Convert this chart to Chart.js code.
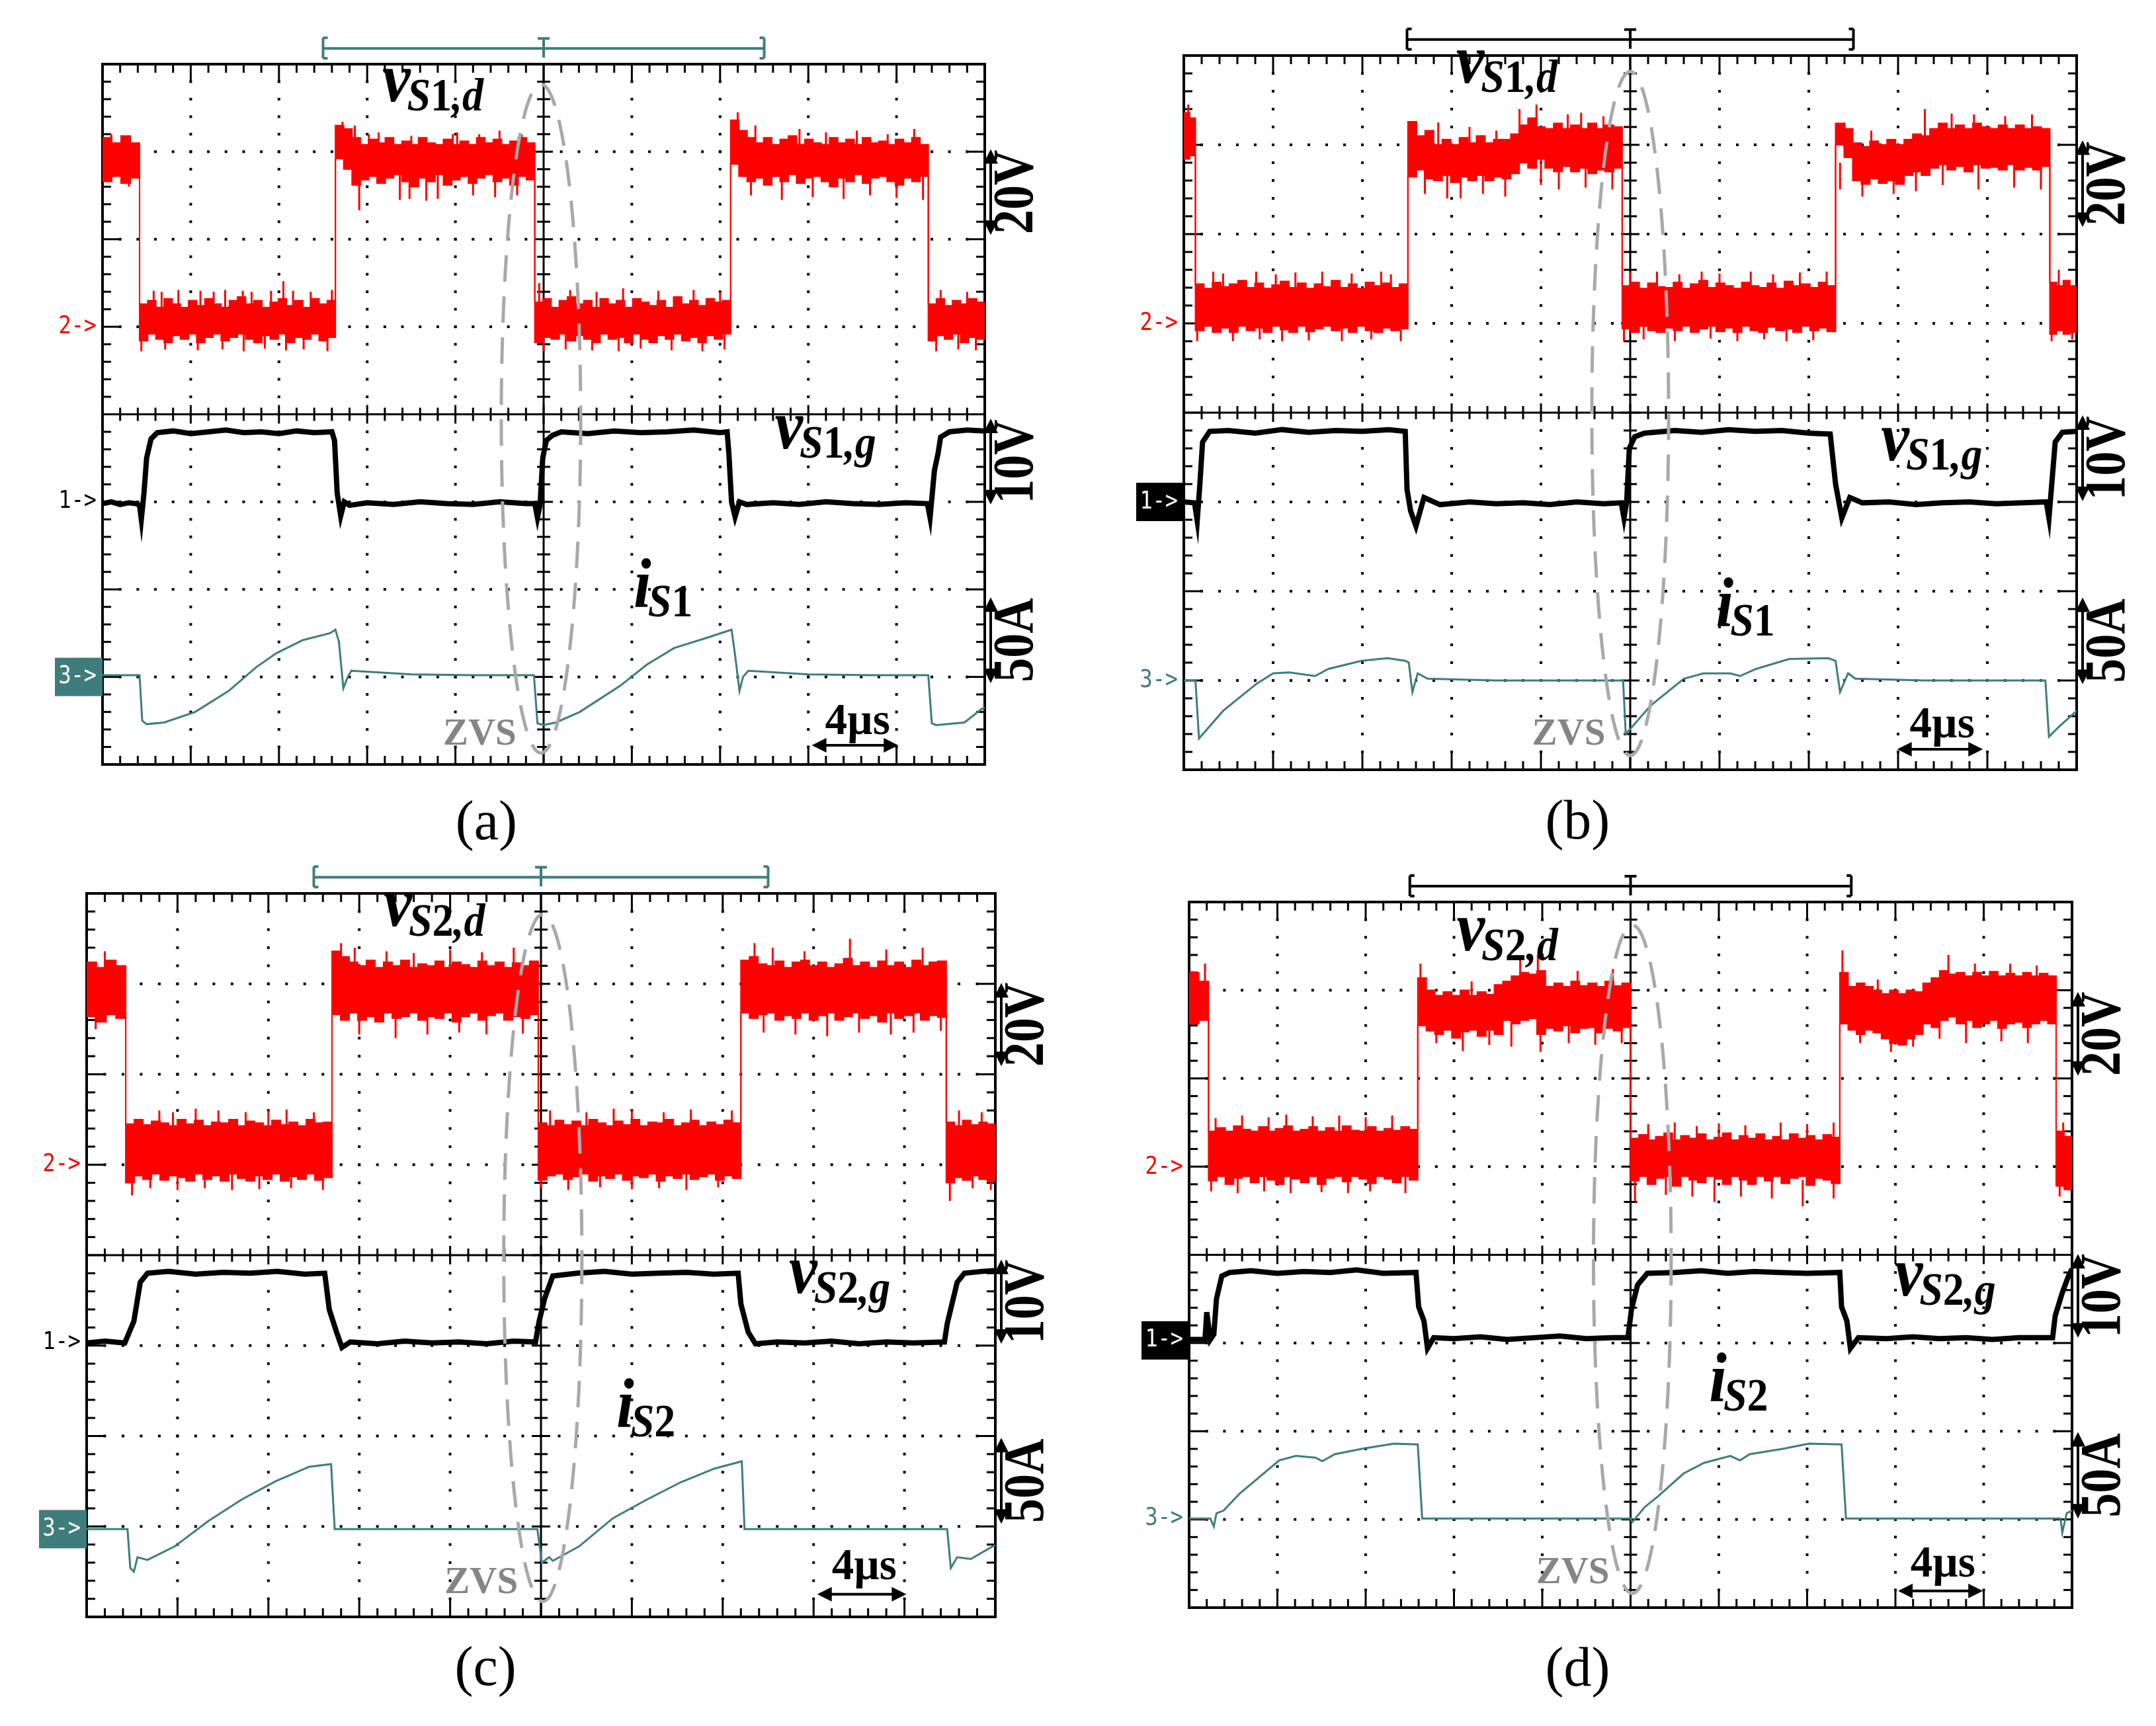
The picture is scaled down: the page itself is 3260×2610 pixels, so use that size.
<!DOCTYPE html>
<html>
<head>
<meta charset="utf-8">
<script src="https://cdn.jsdelivr.net/npm/chart.js@4.4.1/dist/chart.umd.min.js"></script>
<style>
  html, body { margin: 0; padding: 0; background: #fff; }
  body { width: 3260px; height: 2610px; position: relative; overflow: hidden; }
  canvas { position: absolute; }
</style>
</head>
<body>
<canvas id="pa" width="1630" height="1305" style="left:0;top:0"></canvas>
<canvas id="pb" width="1630" height="1305" style="left:1630px;top:0"></canvas>
<canvas id="pc" width="1630" height="1305" style="left:0;top:1305px"></canvas>
<canvas id="pd" width="1630" height="1305" style="left:1630px;top:1305px"></canvas>
<script>
// all values in scope divisions: x 0..10, y 0..8 (bottom = 0)

// ---- panel (a) ----
const redEdgesA = [0, 0.42, 2.64, 4.9, 7.12, 9.36, 10];
const redTopA = [
  [7.16, 7.1, 7.18, 7.1],
  [5.26, 5.3, 5.22, 5.32, 5.26, 5.22, 5.3, 5.24, 5.32, 5.26, 5.22, 5.3, 5.34, 5.26, 5.3, 5.22, 5.28, 5.32, 5.24, 5.3, 5.22, 5.32, 5.26, 5.3],
  [7.3, 7.26, 7.16, 7.08, 7.14, 7.1, 7.16, 7.08, 7.12, 7.08, 7.16, 7.1, 7.08, 7.14, 7.08, 7.12, 7.08, 7.16, 7.1, 7.14, 7.08, 7.12, 7.16, 7.1],
  [5.28, 5.32, 5.22, 5.3, 5.34, 5.26, 5.3, 5.22, 5.32, 5.26, 5.3, 5.22, 5.32, 5.28, 5.24, 5.3, 5.22, 5.34, 5.26, 5.3, 5.24, 5.32, 5.28, 5.3],
  [7.36, 7.24, 7.16, 7.1, 7.16, 7.08, 7.14, 7.18, 7.08, 7.14, 7.1, 7.08, 7.16, 7.1, 7.14, 7.08, 7.16, 7.1, 7.12, 7.08, 7.14, 7.1, 7.16, 7.08],
  [5.26, 5.32, 5.24, 5.3, 5.26, 5.32, 5.28]
];
const redBotA = [
  [6.66, 6.72, 6.64, 6.7],
  [4.84, 4.92, 4.86, 4.82, 4.9, 4.86, 4.92, 4.82, 4.88, 4.92, 4.84, 4.88, 4.92, 4.86, 4.82, 4.9, 4.86, 4.92, 4.82, 4.88, 4.86, 4.92, 4.84, 4.88],
  [6.92, 6.8, 6.62, 6.68, 6.72, 6.64, 6.7, 6.74, 6.66, 6.6, 6.7, 6.66, 6.74, 6.62, 6.68, 6.72, 6.64, 6.7, 6.74, 6.66, 6.7, 6.62, 6.72, 6.68],
  [4.82, 4.88, 4.86, 4.92, 4.84, 4.9, 4.86, 4.82, 4.92, 4.86, 4.88, 4.82, 4.92, 4.86, 4.82, 4.9, 4.86, 4.92, 4.84, 4.88, 4.82, 4.9, 4.86, 4.92],
  [6.86, 6.72, 6.66, 6.7, 6.62, 6.72, 6.66, 6.74, 6.64, 6.7, 6.72, 6.66, 6.6, 6.7, 6.66, 6.74, 6.64, 6.7, 6.72, 6.66, 6.62, 6.7, 6.66, 6.72],
  [4.84, 4.9, 4.86, 4.92, 4.82, 4.88, 4.86]
];
const spikeUpXA = [0.1, 0.58, 0.67, 0.86, 1.11, 1.26, 1.39, 1.59, 1.69, 1.91,
  2.05, 2.16, 2.36, 2.6, 2.72, 2.86, 3.02, 3.13, 3.5, 3.97,
  4.02, 4.27, 4.5, 4.75, 4.95, 5.3, 5.6, 5.9, 6.3, 6.7,
  7.0, 7.2, 7.4, 7.9, 8.2, 8.55, 8.9, 9.2, 9.5, 9.8];
const spikeUpYA = [7.2, 5.41, 5.4, 5.42, 5.41, 5.4, 5.42, 5.41, 5.4, 5.41,
  5.52, 5.41, 5.4, 5.42, 7.34, 7.3, 7.2, 7.22, 7.18, 7.2,
  7.22, 7.2, 7.24, 7.2, 5.5, 5.42, 5.4, 5.44, 5.41, 5.42,
  5.4, 7.45, 7.3, 7.26, 7.22, 7.24, 7.2, 7.26, 5.42, 5.4];
const spikeDnXA = [0.3, 0.44, 0.71, 1.08, 1.36, 1.6, 1.84, 2.08, 2.28, 2.55,
  2.91, 3.37, 3.48, 3.67, 3.8, 4.2, 4.45, 4.7, 5.0, 5.25,
  5.55, 5.85, 6.1, 6.45, 6.8, 7.05, 7.35, 7.7, 8.05, 8.4,
  8.7, 9.0, 9.3, 9.45, 9.7, 9.9];
const spikeDnYA = [6.6, 4.72, 4.74, 4.73, 4.74, 4.72, 4.75, 4.73, 4.74, 4.72,
  6.33, 6.45, 6.46, 6.44, 6.46, 6.5, 6.48, 6.5, 4.72, 4.74,
  4.73, 4.72, 4.75, 4.73, 4.72, 4.74, 6.5, 6.45, 6.48, 6.46,
  6.5, 6.47, 6.45, 4.72, 4.74, 4.73];
const gateXA = [0, 0.1, 0.2, 0.3, 0.38, 0.42, 0.44, 0.47, 0.5, 0.55,
  0.62, 0.8, 1.0, 1.2, 1.4, 1.6, 1.8, 2.0, 2.2, 2.4,
  2.6, 2.63, 2.66, 2.7, 2.74, 2.8, 3.0, 3.3, 3.6, 3.9,
  4.2, 4.5, 4.8, 4.9, 4.93, 4.96, 4.99, 5.03, 5.1, 5.2,
  5.5, 5.8, 6.1, 6.4, 6.7, 7.0, 7.08, 7.1, 7.13, 7.17,
  7.22, 7.3, 7.6, 7.9, 8.2, 8.5, 8.8, 9.1, 9.35, 9.38,
  9.43, 9.47, 9.5, 9.6, 9.8, 10];
const gateYA = [2.98, 3.0, 2.97, 2.99, 2.98, 2.96, 2.8, 3.1, 3.5, 3.72,
  3.79, 3.81, 3.78, 3.8, 3.82, 3.79, 3.8, 3.78, 3.81, 3.79,
  3.8, 3.7, 3.1, 2.84, 3.0, 2.96, 2.99, 2.97, 3.0, 2.98,
  2.97, 3.0, 2.98, 2.98, 2.82, 2.97, 3.5, 3.7, 3.76, 3.8,
  3.78, 3.81, 3.79, 3.8, 3.82, 3.79, 3.8, 3.55, 3.0, 2.83,
  3.0, 2.97, 2.99, 2.97, 3.0, 2.98, 2.97, 2.99, 2.98, 2.82,
  3.36, 3.55, 3.74, 3.8, 3.82, 3.81];
const curXA = [0, 0.42, 0.45, 0.5, 0.7, 1.05, 1.43, 1.74, 1.97, 2.27,
  2.58, 2.64, 2.68, 2.73, 2.78, 2.82, 3.5, 4.2, 4.89, 4.93,
  5.0, 5.14, 5.41, 5.87, 6.17, 6.48, 6.86, 7.1, 7.13, 7.17,
  7.22, 7.26, 7.32, 8.0, 8.7, 9.36, 9.4, 9.45, 9.77, 9.96, 10];
const curYA = [1.02, 1.02, 0.5, 0.46, 0.48, 0.6, 0.84, 1.11, 1.27, 1.42,
  1.5, 1.54, 1.4, 0.87, 1.0, 1.07, 1.03, 1.02, 1.02, 0.47,
  0.45, 0.48, 0.6, 0.9, 1.14, 1.33, 1.45, 1.53, 1.54, 1.25,
  0.84, 1.0, 1.07, 1.03, 1.02, 1.02, 0.47, 0.45, 0.48, 0.63, 0.65];

// ---- panel (b) ----
const redEdgesB = [0, 0.13, 2.51, 4.91, 7.3, 9.7, 10];
const redTopB = [
  [7.36, 7.3],
  [5.44, 5.39, 5.46, 5.41, 5.44, 5.48, 5.4, 5.45, 5.39, 5.43, 5.47, 5.4, 5.45, 5.39, 5.44, 5.41, 5.48, 5.4, 5.44, 5.39, 5.46, 5.42, 5.45, 5.4, 5.44],
  [7.26, 7.1, 7.16, 7.0, 7.06, 7.0, 7.08, 7.02, 7.1, 7.02, 7.06, 7.06, 7.12, 7.22, 7.3, 7.2, 7.18, 7.24, 7.18, 7.22, 7.18, 7.24, 7.18, 7.22, 7.2],
  [5.42, 5.46, 5.39, 5.45, 5.41, 5.4, 5.46, 5.39, 5.44, 5.48, 5.4, 5.45, 5.42, 5.39, 5.46, 5.42, 5.4, 5.45, 5.39, 5.47, 5.42, 5.44, 5.4, 5.46, 5.42],
  [7.24, 7.18, 7.02, 6.98, 7.04, 7.0, 7.06, 7.0, 7.06, 7.12, 7.1, 7.18, 7.24, 7.18, 7.22, 7.18, 7.24, 7.2, 7.18, 7.22, 7.18, 7.22, 7.18, 7.2, 7.18],
  [5.46, 5.42, 5.48, 5.42]
];
const redBotB = [
  [6.84, 6.88],
  [4.92, 4.97, 4.9, 4.95, 4.9, 4.97, 4.92, 4.95, 4.9, 4.97, 4.93, 4.9, 4.97, 4.91, 4.94, 4.97, 4.92, 4.95, 4.9, 4.97, 4.92, 4.9, 4.95, 4.92, 4.94],
  [6.64, 6.72, 6.62, 6.6, 6.66, 6.58, 6.64, 6.6, 6.66, 6.6, 6.64, 6.62, 6.68, 6.8, 6.74, 6.84, 6.74, 6.7, 6.76, 6.7, 6.74, 6.68, 6.72, 6.7, 6.74],
  [4.94, 4.9, 4.97, 4.92, 4.9, 4.95, 4.92, 4.97, 4.9, 4.94, 4.97, 4.91, 4.95, 4.9, 4.97, 4.92, 4.9, 4.96, 4.92, 4.94, 4.9, 4.97, 4.92, 4.95, 4.91],
  [7.0, 6.86, 6.6, 6.56, 6.62, 6.57, 6.6, 6.56, 6.66, 6.7, 6.66, 6.74, 6.78, 6.72, 6.76, 6.7, 6.78, 6.74, 6.75, 6.72, 6.78, 6.72, 6.75, 6.72, 6.76],
  [4.88, 4.92, 4.88, 4.9]
];
const spikeUpXB = [0.05, 0.33, 0.44, 0.81, 1.03, 1.25, 1.55, 1.88, 2.21, 2.32,
  2.6, 2.85, 3.2, 3.5, 3.76, 3.95, 4.3, 4.45, 4.7, 5.0,
  5.3, 5.55, 5.8, 6.0, 6.35, 6.6, 6.9, 7.2, 7.4, 7.7,
  8.3, 8.6, 8.85, 9.2, 9.5, 9.8];
const spikeUpYB = [7.45, 5.58, 5.56, 5.58, 5.55, 5.57, 5.58, 5.56, 5.58, 5.55,
  7.25, 7.25, 7.2, 7.16, 7.4, 7.45, 7.34, 7.36, 7.32, 5.57,
  5.58, 5.55, 5.58, 5.56, 5.58, 5.55, 5.57, 5.58, 7.25, 7.16,
  7.4, 7.35, 7.34, 7.32, 7.34, 5.6];
const spikeDnXB = [0.15, 0.55, 0.85, 1.1, 1.4, 1.77, 2.1, 2.43, 2.7, 2.95,
  3.1, 3.35, 3.6, 4.0, 4.2, 4.5, 4.8, 4.93, 5.15, 5.5,
  5.9, 6.2, 6.5, 6.75, 7.05, 7.35, 7.6, 7.95, 8.2, 8.5,
  8.9, 9.3, 9.6, 9.72, 9.95];
const spikeDnYB = [4.8, 4.8, 4.82, 4.8, 4.81, 4.8, 4.82, 4.8, 6.45, 6.4,
  6.4, 6.45, 6.42, 6.55, 6.5, 6.52, 6.5, 4.8, 4.82, 4.8,
  4.83, 4.8, 4.82, 4.8, 4.81, 6.5, 6.42, 6.45, 6.48, 6.55,
  6.5, 6.52, 6.5, 4.8, 4.82];
const gateXB = [0, 0.12, 0.15, 0.18, 0.21, 0.29, 0.5, 0.8, 1.1, 1.4,
  1.7, 2.0, 2.3, 2.48, 2.5, 2.54, 2.6, 2.69, 2.87, 3.2,
  3.5, 3.8, 4.1, 4.4, 4.7, 4.9, 4.93, 4.96, 4.99, 5.05,
  5.16, 5.5, 5.8, 6.1, 6.4, 6.7, 7.0, 7.24, 7.3, 7.37,
  7.46, 7.6, 7.9, 8.2, 8.5, 8.8, 9.1, 9.4, 9.66, 9.69,
  9.76, 9.84, 10];
const gateYB = [3.0, 2.99, 2.79, 3.2, 3.67, 3.79, 3.8, 3.77, 3.81, 3.78,
  3.8, 3.79, 3.81, 3.79, 3.14, 2.9, 2.73, 3.05, 2.97, 3.0,
  2.98, 2.99, 2.97, 3.0, 2.98, 2.99, 2.82, 3.0, 3.6, 3.73,
  3.77, 3.8, 3.78, 3.81, 3.79, 3.8, 3.77, 3.76, 3.2, 2.82,
  3.05, 2.99, 3.0, 2.97, 2.99, 3.0, 2.98, 2.99, 3.0, 2.82,
  3.67, 3.78, 3.79];
const curXB = [0, 0.13, 0.17, 0.44, 0.81, 1.0, 1.18, 1.47, 1.62, 1.99,
  2.28, 2.48, 2.52, 2.56, 2.62, 2.73, 3.5, 4.2, 4.92, 4.95,
  5.23, 5.6, 5.82, 6.12, 6.23, 6.41, 6.78, 7.22, 7.3, 7.35,
  7.44, 7.52, 8.3, 9.0, 9.65, 9.69, 9.8, 10];
const curYB = [1.0, 1.0, 0.35, 0.66, 0.96, 1.08, 1.09, 1.05, 1.13, 1.22,
  1.25, 1.22, 1.2, 0.87, 1.08, 1.02, 1.0, 1.0, 1.0, 0.4,
  0.72, 1.02, 1.08, 1.08, 1.05, 1.13, 1.24, 1.25, 1.22, 0.87,
  1.08, 1.02, 1.0, 1.0, 1.0, 0.37, 0.48, 0.66];

// ---- panel (c) ----
const redEdgesC = [0, 0.43, 2.7, 4.97, 7.2, 9.46, 10];
const redTopC = [
  [7.24, 7.18, 7.26, 7.2],
  [5.45, 5.5, 5.44, 5.48, 5.46, 5.43, 5.5, 5.45, 5.49, 5.43, 5.47, 5.46, 5.5, 5.43, 5.48, 5.46, 5.43, 5.49, 5.44, 5.47, 5.43, 5.5, 5.46, 5.47],
  [7.36, 7.3, 7.24, 7.2, 7.26, 7.18, 7.24, 7.2, 7.26, 7.18, 7.22, 7.2, 7.25, 7.18, 7.24, 7.21, 7.18, 7.25, 7.2, 7.24, 7.18, 7.23, 7.2, 7.25],
  [5.46, 5.43, 5.49, 5.44, 5.48, 5.43, 5.5, 5.46, 5.43, 5.48, 5.44, 5.5, 5.43, 5.47, 5.46, 5.5, 5.43, 5.46, 5.49, 5.43, 5.47, 5.44, 5.49, 5.46],
  [7.26, 7.3, 7.22, 7.2, 7.25, 7.18, 7.24, 7.26, 7.2, 7.24, 7.18, 7.22, 7.28, 7.2, 7.24, 7.18, 7.25, 7.2, 7.24, 7.18, 7.26, 7.2, 7.24, 7.25],
  [5.47, 5.43, 5.49, 5.44, 5.47, 5.45]
];
const redBotC = [
  [6.64, 6.58, 6.66, 6.62],
  [4.8, 4.88, 4.84, 4.9, 4.83, 4.88, 4.86, 4.82, 4.9, 4.84, 4.88, 4.82, 4.9, 4.85, 4.82, 4.88, 4.84, 4.9, 4.82, 4.87, 4.84, 4.9, 4.83, 4.86],
  [6.66, 6.6, 6.68, 6.6, 6.64, 6.58, 6.68, 6.62, 6.64, 6.68, 6.6, 6.64, 6.62, 6.68, 6.58, 6.64, 6.68, 6.6, 6.65, 6.68, 6.6, 6.64, 6.62, 6.66],
  [4.83, 4.88, 4.9, 4.84, 4.87, 4.9, 4.82, 4.88, 4.85, 4.9, 4.83, 4.88, 4.86, 4.9, 4.82, 4.88, 4.85, 4.9, 4.84, 4.87, 4.9, 4.83, 4.88, 4.85],
  [6.68, 6.62, 6.66, 6.68, 6.6, 6.65, 6.62, 6.68, 6.6, 6.65, 6.68, 6.6, 6.64, 6.68, 6.62, 6.65, 6.58, 6.68, 6.62, 6.65, 6.68, 6.6, 6.65, 6.63],
  [4.8, 4.86, 4.83, 4.88, 4.84, 4.82]
];
const spikeUpXC = [0.2, 0.8, 0.95, 1.2, 1.45, 1.75, 2.0, 2.2, 2.5, 2.8,
  2.95, 3.3, 3.6, 4.0, 4.35, 4.7, 5.1, 5.5, 5.8, 6.0,
  6.35, 6.65, 7.1, 7.35, 7.55, 7.9, 8.4, 8.8, 9.2, 9.6, 9.85];
const spikeUpYC = [7.36, 5.6, 5.58, 5.62, 5.6, 5.58, 5.6, 5.61, 5.58, 7.45,
  7.4, 7.36, 7.34, 7.38, 7.35, 7.4, 5.6, 5.58, 5.62, 5.6,
  5.58, 5.61, 5.6, 7.45, 7.4, 7.36, 7.5, 7.38, 7.4, 5.6, 5.58];
const spikeDnXC = [0.1, 0.5, 0.7, 1.0, 1.3, 1.6, 1.9, 2.25, 2.6, 3.0,
  3.4, 3.75, 4.1, 4.4, 4.8, 5.0, 5.3, 5.65, 6.0, 6.3,
  6.6, 6.95, 7.45, 7.8, 8.15, 8.5, 8.85, 9.1, 9.4, 9.5,
  9.75, 9.95];
const spikeDnYC = [6.5, 4.66, 4.74, 4.72, 4.74, 4.72, 4.73, 4.74, 4.72, 6.44,
  6.4, 6.44, 6.46, 6.44, 6.45, 4.74, 4.72, 4.75, 4.73, 4.74,
  4.72, 4.75, 6.46, 6.44, 6.42, 6.46, 6.44, 6.46, 6.48, 4.6,
  4.74, 4.72];
const gateXC = [0, 0.2, 0.42, 0.47, 0.52, 0.59, 0.67, 0.9, 1.2, 1.5,
  1.8, 2.1, 2.4, 2.62, 2.67, 2.75, 2.81, 2.9, 3.2, 3.5,
  3.8, 4.1, 4.4, 4.7, 4.94, 4.98, 5.04, 5.13, 5.4, 5.7,
  6.0, 6.3, 6.6, 6.9, 7.17, 7.2, 7.28, 7.36, 7.6, 7.9,
  8.2, 8.5, 8.8, 9.1, 9.44, 9.47, 9.58, 9.66, 9.85, 10];
const gateYC = [3.03, 3.05, 3.03, 3.15, 3.27, 3.7, 3.8, 3.82, 3.79, 3.81,
  3.8, 3.82, 3.79, 3.8, 3.4, 3.15, 2.98, 3.04, 3.02, 3.05,
  3.03, 3.04, 3.02, 3.05, 3.04, 3.27, 3.52, 3.77, 3.8, 3.82,
  3.79, 3.8, 3.81, 3.79, 3.8, 3.46, 3.15, 3.02, 3.04, 3.03,
  3.05, 3.02, 3.04, 3.03, 3.04, 3.24, 3.7, 3.8, 3.82, 3.83];
const curXC = [0, 0.45, 0.48, 0.52, 0.56, 0.67, 0.97, 1.34, 1.71, 2.08,
  2.45, 2.69, 2.73, 3.5, 4.2, 4.96, 5.01, 5.09, 5.13, 5.42,
  5.79, 6.17, 6.54, 6.91, 7.21, 7.24, 8.0, 8.8, 9.47, 9.51,
  9.58, 9.73, 9.97, 10];
const curYC = [0.97, 0.97, 0.54, 0.5, 0.66, 0.63, 0.78, 1.06, 1.3, 1.5,
  1.66, 1.69, 0.97, 0.97, 0.97, 0.97, 0.6, 0.66, 0.62, 0.78,
  1.09, 1.3, 1.49, 1.64, 1.72, 0.97, 0.97, 0.97, 0.97, 0.54,
  0.66, 0.64, 0.78, 0.79];

// ---- panel (d) ----
const redEdgesD = [0, 0.22, 2.59, 5.0, 7.37, 9.82, 10];
const redTopD = [
  [7.2, 7.1],
  [5.4, 5.44, 5.4, 5.46, 5.42, 5.4, 5.45, 5.4, 5.43, 5.46, 5.4, 5.42, 5.45, 5.4, 5.44, 5.4, 5.46, 5.41, 5.4, 5.45, 5.4, 5.43, 5.41, 5.45, 5.42],
  [7.14, 7.0, 6.94, 6.98, 6.94, 7.0, 6.94, 6.98, 6.95, 7.06, 7.1, 7.16, 7.2, 7.18, 7.22, 7.04, 7.08, 7.04, 7.1, 7.05, 7.08, 7.04, 7.1, 7.05, 7.08],
  [5.32, 5.36, 5.3, 5.34, 5.38, 5.3, 5.35, 5.32, 5.37, 5.3, 5.33, 5.38, 5.3, 5.35, 5.32, 5.37, 5.3, 5.34, 5.3, 5.37, 5.32, 5.35, 5.3, 5.36, 5.33],
  [7.2, 7.04, 7.08, 7.04, 7.0, 6.96, 7.0, 6.96, 7.0, 6.98, 7.08, 7.14, 7.22, 7.18, 7.2, 7.16, 7.2, 7.16, 7.21, 7.16, 7.19, 7.16, 7.2, 7.16, 7.19, 7.16],
  [5.4, 5.34]
];
const redBotD = [
  [6.62, 6.66],
  [4.84, 4.89, 4.8, 4.87, 4.89, 4.82, 4.89, 4.85, 4.8, 4.89, 4.86, 4.82, 4.89, 4.8, 4.87, 4.89, 4.83, 4.89, 4.86, 4.81, 4.89, 4.86, 4.82, 4.89, 4.85],
  [6.6, 6.54, 6.5, 6.55, 6.46, 6.53, 6.55, 6.48, 6.55, 6.5, 6.66, 6.62, 6.66, 6.68, 6.5, 6.57, 6.54, 6.6, 6.52, 6.57, 6.58, 6.52, 6.57, 6.54, 6.58],
  [4.84, 4.89, 4.8, 4.87, 4.89, 4.78, 4.89, 4.85, 4.82, 4.89, 4.86, 4.8, 4.89, 4.85, 4.8, 4.89, 4.84, 4.89, 4.81, 4.87, 4.89, 4.79, 4.87, 4.85, 4.81],
  [6.62, 6.55, 6.5, 6.55, 6.52, 6.45, 6.4, 6.38, 6.45, 6.5, 6.62, 6.58, 6.66, 6.7, 6.62, 6.66, 6.58, 6.62, 6.66, 6.57, 6.62, 6.64, 6.58, 6.62, 6.66, 6.62],
  [4.78, 4.74]
];
const spikeUpXD = [0.18, 0.3, 0.6, 0.9, 1.1, 1.4, 1.7, 2.0, 2.3, 2.62,
  3.2, 3.75, 3.95, 4.4, 4.8, 5.2, 5.5, 5.75, 6.0, 6.3,
  6.7, 7.0, 7.3, 7.4, 7.8, 8.6, 8.9, 9.3, 9.6, 9.9];
const spikeUpYD = [7.3, 5.55, 5.58, 5.56, 5.59, 5.57, 5.58, 5.56, 5.58, 7.3,
  7.1, 7.35, 7.4, 7.22, 7.24, 5.48, 5.5, 5.46, 5.49, 5.47,
  5.5, 5.48, 5.5, 7.45, 7.12, 7.4, 7.3, 7.3, 7.28, 5.5];
const spikeDnXD = [0.25, 0.55, 0.85, 1.15, 1.5, 1.8, 2.05, 2.45, 2.8, 3.1,
  3.4, 3.65, 3.98, 4.3, 4.6, 4.9, 5.05, 5.4, 5.7, 5.95,
  6.25, 6.6, 6.95, 7.3, 7.6, 7.95, 8.2, 8.5, 8.8, 9.2,
  9.5, 9.86];
const spikeDnYD = [4.72, 4.7, 4.72, 4.7, 4.71, 4.7, 4.72, 4.7, 6.4, 6.31,
  6.38, 6.36, 6.3, 6.4, 6.38, 6.4, 4.6, 4.68, 4.66, 4.6,
  4.66, 4.64, 4.55, 4.64, 6.4, 6.3, 6.36, 6.45, 6.4, 6.42,
  6.4, 4.66];
const gateXD = [0, 0.18, 0.2, 0.24, 0.28, 0.31, 0.37, 0.46, 0.7, 1.0,
  1.3, 1.6, 1.9, 2.2, 2.57, 2.6, 2.66, 2.7, 2.77, 3.0,
  3.3, 3.6, 3.9, 4.2, 4.5, 4.8, 4.97, 5.01, 5.08, 5.19,
  5.5, 5.8, 6.1, 6.4, 6.7, 7.0, 7.37, 7.39, 7.45, 7.49,
  7.58, 7.9, 8.2, 8.5, 8.8, 9.1, 9.4, 9.78, 9.81, 9.89,
  9.96, 10];
const gateYD = [3.04, 3.04, 3.35, 3.04, 3.1, 3.5, 3.76, 3.8, 3.82, 3.79,
  3.81, 3.8, 3.83, 3.79, 3.8, 3.41, 3.25, 2.94, 3.06, 3.05,
  3.07, 3.04, 3.06, 3.08, 3.05, 3.06, 3.06, 3.38, 3.66, 3.79,
  3.8, 3.82, 3.79, 3.81, 3.8, 3.79, 3.8, 3.41, 3.25, 2.94,
  3.06, 3.05, 3.07, 3.05, 3.06, 3.04, 3.06, 3.06, 3.31, 3.57,
  3.76, 3.84];
const curXD = [0, 0.24, 0.28, 0.31, 0.39, 0.57, 0.76, 1.02, 1.21, 1.43,
  1.51, 1.65, 1.95, 2.32, 2.59, 2.64, 3.4, 4.2, 5.0, 5.02,
  5.16, 5.31, 5.6, 5.83, 6.13, 6.24, 6.35, 6.72, 7.02, 7.39,
  7.44, 8.2, 9.0, 9.87, 9.89, 9.94, 10];
const curYD = [1.01, 1.01, 0.92, 1.07, 1.1, 1.29, 1.45, 1.67, 1.72, 1.7,
  1.66, 1.74, 1.8, 1.86, 1.85, 1.01, 1.01, 1.01, 1.01, 0.97,
  1.14, 1.26, 1.52, 1.64, 1.72, 1.67, 1.74, 1.8, 1.86, 1.85,
  1.01, 1.01, 1.01, 1.01, 0.85, 1.07, 1.1];

const RED = '#ff0000';
const TEAL = '#3f7d7c';
const SERIF = '"Liberation Serif", "Times New Roman", serif';

// layout of each panel (positions in divisions)
const panels = [
  { id: 'pa', pad: { left: 155, right: 141, top: 97, bottom: 149 }, bar: TEAL, n: '1',
    red: [redEdgesA, redTopA, redBotA], up: [spikeUpXA, spikeUpYA], dn: [spikeDnXA, spikeDnYA],
    gate: [gateXA, gateYA], cur: [curXA, curYA],
    vd: [3.17, 7.58], vg: [7.62, 3.61], is: [6.02, 1.8], zvs: [3.86, 0.23],
    us: [8.19, 0.35], usArrow: [8.04, 9.02, 0.22],
    scl: [[6.05, 7.03, '20V'], [2.97, 3.95, '10V'], [0.93, 1.91, '50A']],
    mk: [[5.0, '2->', RED, null], [3.0, '1->', '#000', null], [1.0, '3->', '#fff', TEAL]],
    ell: [4.97, 3.95, 0.45, 3.82], cap: [4.35, -0.69, '(a)'] },
  { id: 'pb', pad: { left: 160, right: 120, top: 84, bottom: 141 }, bar: '#000', n: '1',
    red: [redEdgesB, redTopB, redBotB], up: [spikeUpXB, spikeUpYB], dn: [spikeDnXB, spikeDnYB],
    gate: [gateXB, gateYB], cur: [curXB, curYB],
    vd: [3.05, 7.7], vg: [7.81, 3.47], is: [5.96, 1.61], zvs: [3.9, 0.28],
    us: [8.13, 0.36], usArrow: [7.99, 8.95, 0.23],
    scl: [[6.08, 7.05, '20V'], [3.01, 3.97, '10V'], [0.96, 1.93, '50A']],
    mk: [[5.0, '2->', RED, null], [3.0, '1->', '#fff', '#000'], [1.0, '3->', TEAL, null]],
    ell: [5.0, 3.99, 0.43, 3.83], cap: [4.41, -0.61, '(b)'] },
  { id: 'pc', pad: { left: 131, right: 125, top: 46, bottom: 165 }, bar: TEAL, n: '2',
    red: [redEdgesC, redTopC, redBotC], up: [spikeUpXC, spikeUpYC], dn: [spikeDnXC, spikeDnYC],
    gate: [gateXC, gateYC], cur: [curXC, curYC],
    vd: [3.27, 7.64], vg: [7.73, 3.58], is: [5.83, 2.1], zvs: [3.94, 0.26],
    us: [8.2, 0.42], usArrow: [8.04, 9.02, 0.25],
    scl: [[6.09, 7.01, '20V'], [3.02, 3.95, '10V'], [1.03, 1.98, '50A']],
    mk: [[5.0, '2->', RED, null], [3.03, '1->', '#000', null], [0.97, '3->', '#fff', TEAL]],
    ell: [5.02, 3.97, 0.43, 3.8], cap: [4.39, -0.59, '(c)'] },
  { id: 'pd', pad: { left: 168, right: 127, top: 59, bottom: 179 }, bar: '#000', n: '2',
    red: [redEdgesD, redTopD, redBotD], up: [spikeUpXD, spikeUpYD], dn: [spikeDnXD, spikeDnYD],
    gate: [gateXD, gateYD], cur: [curXD, curYD],
    vd: [3.03, 7.45], vg: [7.99, 3.54], is: [5.89, 2.34], zvs: [3.93, 0.28],
    us: [8.17, 0.35], usArrow: [8.03, 8.99, 0.19],
    scl: [[6.03, 6.98, '20V'], [3.06, 4.01, '10V'], [1.01, 1.99, '50A']],
    mk: [[4.99, '2->', RED, null], [3.03, '1->', '#fff', '#000'], [1.01, '3->', TEAL, null]],
    ell: [5.02, 3.95, 0.44, 3.79], cap: [4.4, -0.72, '(d)'] }
];

function zip(xs, ys) {
  return xs.map((x, i) => ({ x: x, y: ys[i] }));
}

// one sample per column of each segment, held until the next one
function bandPoints(edges, segs) {
  const pts = [];
  segs.forEach((seg, k) => {
    const t0 = edges[k], t1 = edges[k + 1];
    seg.forEach((v, j) => pts.push({ x: t0 + (t1 - t0) * j / seg.length, y: v }));
  });
  const last = segs[segs.length - 1];
  pts.push({ x: edges[edges.length - 1], y: last[last.length - 1] });
  return pts;
}

// thin noise spikes: a short vertical stroke from the tip back into the band
function spikePoints(xs, ys, back) {
  const pts = [];
  xs.forEach((x, i) => {
    pts.push({ x: x, y: ys[i] }, { x: x, y: ys[i] + back }, { x: x, y: null });
  });
  return pts;
}

function seg(ctx, x1, y1, x2, y2) {
  ctx.beginPath(); ctx.moveTo(x1, y1); ctx.lineTo(x2, y2); ctx.stroke();
}

const scopeGrid = {
  id: 'scopeGrid',
  beforeDatasetsDraw(chart) {
    const { ctx, chartArea: a, scales: { x, y } } = chart;
    const px = v => x.getPixelForValue(v), py = v => y.getPixelForValue(v);
    ctx.save();
    ctx.fillStyle = '#000';
    // dotted graticule
    for (let i = 1; i < 10; i++) {
      if (i === 5) continue;
      for (let j = 1; j < 40; j++) ctx.fillRect(px(i) - 2, py(j * 0.2) - 2, 4, 4);
    }
    for (let j = 1; j < 8; j++) {
      if (j === 4) continue;
      for (let i = 1; i < 50; i++) ctx.fillRect(px(i * 0.2) - 2, py(j) - 2, 4, 4);
    }
    ctx.strokeStyle = '#000';
    ctx.lineWidth = 3;
    const cx = px(5), cy = py(4);
    seg(ctx, cx, a.top, cx, a.bottom);
    seg(ctx, a.left, cy, a.right, cy);
    for (let i = 1; i < 50; i++) {
      const X = px(i * 0.2), major = i % 5 === 0, len = major ? 28 : 13, c = major ? 14 : 10;
      seg(ctx, X, a.top, X, a.top + len);
      seg(ctx, X, a.bottom, X, a.bottom - len);
      seg(ctx, X, cy - c, X, cy + c);
    }
    for (let j = 1; j < 40; j++) {
      const Y = py(j * 0.2), major = j % 5 === 0, len = major ? 28 : 13, c = major ? 14 : 10;
      seg(ctx, a.left, Y, a.left + len, Y);
      seg(ctx, a.right, Y, a.right - len, Y);
      seg(ctx, cx - c, Y, cx + c, Y);
    }
    ctx.lineWidth = 4;
    ctx.strokeRect(a.left, a.top, a.right - a.left, a.bottom - a.top);
    ctx.restore();
  }
};

function symbol(ctx, x, y, main, parts) {
  ctx.save();
  ctx.translate(x, y);
  ctx.scale(1, 1.1);
  ctx.fillStyle = '#000';
  ctx.textAlign = 'left';
  ctx.textBaseline = 'alphabetic';
  ctx.font = 'italic bold 96px ' + SERIF;
  ctx.fillText(main, 0, 0);
  let cx = ctx.measureText(main).width - 5;
  parts.forEach(([t, it]) => {
    ctx.font = (it ? 'italic ' : '') + 'bold 64px ' + SERIF;
    ctx.fillText(t, cx, 13);
    cx += ctx.measureText(t).width;
  });
  ctx.restore();
}

function arrowHead(ctx, x, y, dx, dy) {
  // tip at (x, y), pointing along (dx, dy)
  const L = 22, W = 11;
  ctx.beginPath();
  ctx.moveTo(x, y);
  ctx.lineTo(x - dx * L - dy * W, y - dy * L + dx * W);
  ctx.lineTo(x - dx * L + dy * W, y - dy * L - dx * W);
  ctx.closePath();
  ctx.fill();
}

function plainText(ctx, text, x, y, font, color) {
  ctx.font = font;
  ctx.fillStyle = color;
  ctx.textAlign = 'left';
  ctx.textBaseline = 'alphabetic';
  ctx.fillText(text, x, y);
}

const scopeText = {
  id: 'scopeText',
  afterDatasetsDraw(chart, args, p) {
    const { ctx, chartArea: a, scales: { x, y } } = chart;
    const px = v => x.getPixelForValue(v), py = v => y.getPixelForValue(v);
    ctx.save();

    // ZVS ellipse
    const [ex, ey, rx, ry] = p.ell;
    ctx.strokeStyle = '#a9a9a9';
    ctx.lineWidth = 5;
    ctx.setLineDash([40, 22]);
    ctx.beginPath();
    ctx.ellipse(px(ex), py(ey), px(ex + rx) - px(ex), py(ey - ry) - py(ey), 0, 0, Math.PI * 2);
    ctx.stroke();
    ctx.setLineDash([]);

    // top bar
    const by = py(8.18), b1 = px(2.5), b2 = px(7.5), bc = px(5);
    ctx.strokeStyle = p.bar;
    ctx.lineWidth = 4;
    seg(ctx, b1, by, b2, by);
    seg(ctx, b1, by - 16, b1, by + 15); seg(ctx, b1, by - 16, b1 + 7, by - 16); seg(ctx, b1, by + 15, b1 + 7, by + 15);
    seg(ctx, b2, by - 16, b2, by + 15); seg(ctx, b2, by - 16, b2 - 7, by - 16); seg(ctx, b2, by + 15, b2 - 7, by + 15);
    seg(ctx, bc, by - 15, bc, by + 14); seg(ctx, bc - 9, by - 15, bc + 9, by - 15);

    // signal names
    symbol(ctx, px(p.vd[0]), py(p.vd[1]), 'v', [['S', 1], [p.n, 0], [',', 1], ['d', 1]]);
    symbol(ctx, px(p.vg[0]), py(p.vg[1]), 'v', [['S', 1], [p.n, 0], [',', 1], ['g', 1]]);
    symbol(ctx, px(p.is[0]), py(p.is[1]), 'i', [['S', 1], [p.n, 0]]);

    plainText(ctx, 'ZVS', px(p.zvs[0]), py(p.zvs[1]), 'bold 57px ' + SERIF, '#858585');

    // time scale
    plainText(ctx, '4\u00b5s', px(p.us[0]), py(p.us[1]), 'bold 67px ' + SERIF, '#000');
    const [u1, u2, uy] = p.usArrow;
    ctx.strokeStyle = '#000';
    ctx.fillStyle = '#000';
    ctx.lineWidth = 4;
    seg(ctx, px(u1) + 6, py(uy), px(u2) - 6, py(uy));
    arrowHead(ctx, px(u1), py(uy), -1, 0);
    arrowHead(ctx, px(u2), py(uy), 1, 0);

    // volts / amps per division
    const ax = a.right + 9;
    p.scl.forEach(([lo, hi, label]) => {
      const y1 = py(hi), y2 = py(lo);
      seg(ctx, ax, y1 + 6, ax, y2 - 6);
      arrowHead(ctx, ax, y1, 0, -1);
      arrowHead(ctx, ax, y2, 0, 1);
      ctx.save();
      ctx.translate(a.right + 50, (y1 + y2) / 2);
      ctx.rotate(-Math.PI / 2);
      ctx.scale(1, 1.16);
      ctx.font = 'bold 74px ' + SERIF;
      ctx.textAlign = 'center';
      ctx.textBaseline = 'middle';
      ctx.fillText(label, 0, 0);
      ctx.restore();
    });

    // channel markers
    p.mk.forEach(([lv, label, color, box]) => {
      const yc = py(lv);
      if (box) {
        ctx.fillStyle = box;
        ctx.fillRect(a.left - 72, yc - 29, 72, 58);
      }
      ctx.save();
      ctx.translate(a.left - 9, yc);
      ctx.scale(0.86, 1);
      ctx.font = '37px "DejaVu Sans Mono", monospace';
      ctx.fillStyle = color;
      ctx.textAlign = 'right';
      ctx.textBaseline = 'middle';
      ctx.fillText(label, 0, 0);
      ctx.restore();
    });

    // caption
    ctx.fillStyle = '#000';
    ctx.font = '84px ' + SERIF;
    ctx.textAlign = 'center';
    ctx.textBaseline = 'middle';
    ctx.fillText(p.cap[2], px(p.cap[0]), py(p.cap[1]));
    ctx.restore();
  }
};

panels.forEach(p => {
  const [edges, top, bot] = p.red;
  new Chart(document.getElementById(p.id), {
    type: 'line',
    data: {
      datasets: [
        { data: zip(p.cur[0], p.cur[1]), borderColor: TEAL, borderWidth: 3 },
        { data: zip(p.gate[0], p.gate[1]), borderColor: '#000', borderWidth: 8 },
        { data: spikePoints(p.up[0], p.up[1], -0.3), borderColor: RED, borderWidth: 3, spanGaps: false },
        { data: spikePoints(p.dn[0], p.dn[1], 0.3), borderColor: RED, borderWidth: 3, spanGaps: false },
        { data: bandPoints(edges, top), borderColor: RED, backgroundColor: RED, borderWidth: 2, stepped: true, fill: '+1' },
        { data: bandPoints(edges, bot), borderColor: RED, borderWidth: 2, stepped: true }
      ]
    },
    options: {
      responsive: false,
      animation: false,
      events: [],
      devicePixelRatio: 1,
      layout: { padding: p.pad },
      elements: { point: { radius: 0 }, line: { tension: 0, borderJoinStyle: 'miter', borderCapStyle: 'butt' } },
      scales: {
        x: { type: 'linear', min: 0, max: 10, display: false },
        y: { type: 'linear', min: 0, max: 8, display: false }
      },
      plugins: {
        legend: { display: false },
        tooltip: { enabled: false },
        scopeText: p
      }
    },
    plugins: [scopeGrid, scopeText]
  });
});
</script>
</body>
</html>
